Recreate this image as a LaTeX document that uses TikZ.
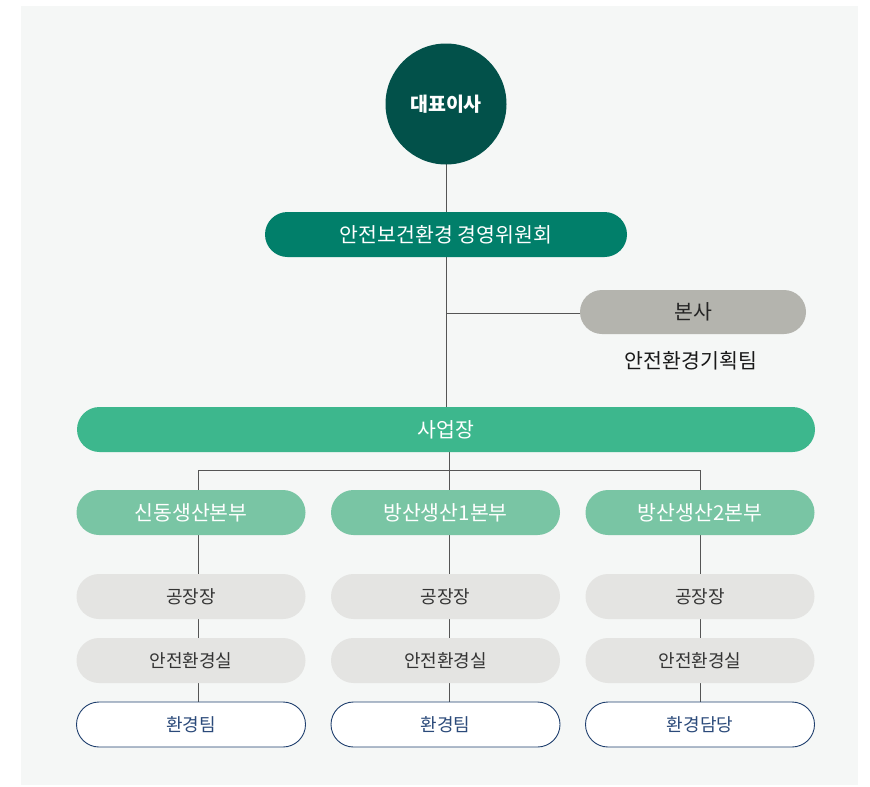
\documentclass[tikz,border=0pt]{standalone}
\usepackage{fontspec}
\usetikzlibrary{shapes.misc}
\setmainfont{Noto Sans CJK KR}
\definecolor{panelbg}{HTML}{F5F7F6}
\definecolor{ceo}{HTML}{02514A}
\definecolor{committee}{HTML}{017F6A}
\definecolor{hq}{HTML}{B4B4AE}
\definecolor{site}{HTML}{3DB78D}
\definecolor{division}{HTML}{79C5A4}
\definecolor{unit}{HTML}{E4E4E2}
\definecolor{navy}{HTML}{1F3F6E}
\definecolor{navytext}{HTML}{2B4A7A}
\definecolor{linegray}{HTML}{555555}
\definecolor{darktext}{HTML}{333333}
\begin{document}
\begin{tikzpicture}[x=1pt,y=-1pt,
  pill/.style={rounded rectangle, minimum height=45pt, inner sep=0pt},
  conn/.style={draw=linegray, line width=0.9pt},
  bigfont/.style={font=\fontsize{20.5}{22}\selectfont},
  smallfont/.style={font=\fontsize{18}{20}\selectfont},
  divbox/.style={pill, fill=division, text=white, minimum width=229pt, bigfont},
  unitbox/.style={pill, fill=unit, text=darktext, minimum width=229pt, smallfont},
  teambox/.style={pill, fill=white, draw=navy, line width=0.9pt, text=navytext, minimum width=229pt, smallfont}
]
\useasboundingbox (0,0) rectangle (870,787);
\fill[panelbg] (21,6) rectangle (858,785);

% connectors first (behind nodes)
\coordinate (ceoc) at (446,104);
\coordinate (siteTop) at (446,430);
\coordinate (hqj) at (446,313);
\coordinate (hqw) at (600,313);
\coordinate (splitA) at (198,470);
\coordinate (splitB) at (449,470);
\coordinate (splitC) at (700,470);
\coordinate (colA) at (198,724);
\coordinate (colB) at (449,724);
\coordinate (colC) at (700,724);
\coordinate (siteMid) at (449,430);
\draw[conn] (ceoc) -- (siteTop);
\draw[conn] (hqj) -- (hqw);
\draw[conn] (siteMid) -- (splitB);
\draw[conn] (colA) -- (splitA) -- (splitC) -- (colC);
\draw[conn] (splitB) -- (colB);

\node[circle, fill=ceo, minimum size=121pt, inner sep=0pt, text=white, font=\fontsize{19.5}{21}\selectfont\bfseries] (ceo) at (446,104) {대표이사};
\node[pill, fill=committee, text=white, minimum width=362pt, bigfont] (com) at (446,234.5) {안전보건환경 경영위원회};
\node[pill, fill=hq, text=black!85, minimum width=226pt, minimum height=44pt, bigfont] (hq) at (693,312) {본사};
\node[text=black!90, bigfont, inner sep=0pt] (plan) at (691,361) {안전환경기획팀};
\node[pill, fill=site, text=white, minimum width=738pt, bigfont] (site) at (446,429.5) {사업장};

\node[divbox] (d1) at (191,512.5) {신동생산본부};
\node[divbox] (d2) at (445.5,512.5) {방산생산1본부};
\node[divbox] (d3) at (700,512.5) {방산생산2본부};

\node[unitbox] (f1) at (191,596.5) {공장장};
\node[unitbox] (f2) at (445.5,596.5) {공장장};
\node[unitbox] (f3) at (700,596.5) {공장장};

\node[unitbox] (s1) at (191,660.5) {안전환경실};
\node[unitbox] (s2) at (445.5,660.5) {안전환경실};
\node[unitbox] (s3) at (700,660.5) {안전환경실};

\node[teambox] (t1) at (191,724.5) {환경팀};
\node[teambox] (t2) at (445.5,724.5) {환경팀};
\node[teambox] (t3) at (700,724.5) {환경담당};
\end{tikzpicture}
\end{document}
